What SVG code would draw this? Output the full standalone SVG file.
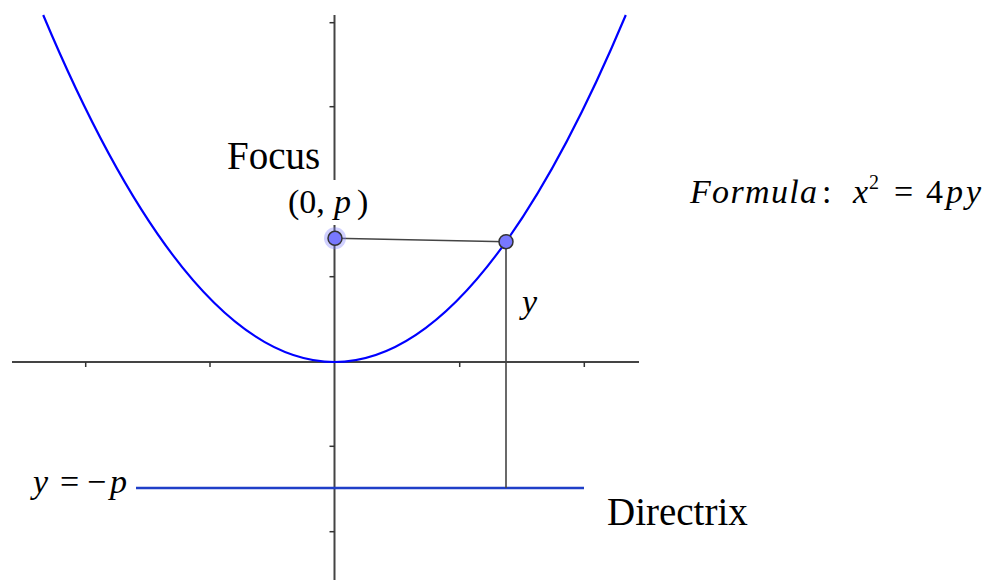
<svg xmlns="http://www.w3.org/2000/svg" width="989" height="580" viewBox="0 0 989 580">
<style>
  .axis { stroke: #444; stroke-width: 2; fill: none; }
  .tick { stroke: #333; stroke-width: 1.5; }
  .seg { stroke: #444; stroke-width: 1.6; fill: none; }
  .curve { stroke: #0000ff; stroke-width: 2.2; fill: none; }
  .dir { stroke: #1f3fc8; stroke-width: 2.6; fill: none; }
  .pt { fill: #7878ff; stroke: #333; stroke-width: 1.5; }
  .halo { fill: #7878ff; fill-opacity: 0.35; }
  text { font-family: "Liberation Serif", "Times New Roman", serif; fill: #000; }
  .lbl { font-size: 39px; }
  .math { font-size: 34px; }
  .it { font-style: italic; }
</style>
<rect width="989" height="580" fill="#fff"/>

<g id="axes">
  <line class="axis" x1="12" y1="362" x2="639" y2="362"/>
  <line class="axis" x1="334.5" y1="15" x2="334.5" y2="180"/>
  <line class="axis" x1="334.5" y1="225" x2="334.5" y2="580"/>
  <g id="ticks">
    <line class="tick" x1="85.7" y1="362" x2="85.7" y2="367"/>
    <line class="tick" x1="210" y1="362" x2="210" y2="367"/>
    <line class="tick" x1="459.7" y1="362" x2="459.7" y2="367"/>
    <line class="tick" x1="584.3" y1="362" x2="584.3" y2="367"/>
    <line class="tick" x1="329.5" y1="22.7" x2="334.5" y2="22.7"/>
    <line class="tick" x1="329.5" y1="106.7" x2="334.5" y2="106.7"/>
    <line class="tick" x1="329.5" y1="276.7" x2="334.5" y2="276.7"/>
    <line class="tick" x1="329.5" y1="446.3" x2="334.5" y2="446.3"/>
    <line class="tick" x1="329.5" y1="531.7" x2="334.5" y2="531.7"/>
  </g>
</g>

<g id="parabola">
  <path class="curve" d="M43.2,15 Q334.5,709 625.8,15"/>
</g>

<g id="directrix">
  <line class="dir" x1="136" y1="488" x2="584" y2="488"/>
</g>

<g id="connectors">
  <line class="seg" x1="335" y1="238.3" x2="506" y2="241.7"/>
  <line class="seg" x1="506" y1="241.7" x2="506" y2="488"/>
</g>

<g id="focus">
  <circle class="halo" cx="335" cy="238.3" r="11"/>
  <circle class="pt" cx="335" cy="238.3" r="7"/>
</g>

<g id="curve-point">
  <circle class="pt" cx="506" cy="241.7" r="7"/>
</g>

<g id="labels">
  <text class="lbl" x="227" y="169">Focus</text>
  <text class="math" x="288" y="213" font-size="33">(0,<tspan class="it" x="334">p</tspan><tspan x="357">)</tspan></text>
  <text class="math it" x="522" y="313">y</text>
  <text class="lbl" x="607" y="525">Directrix</text>
  <text class="math" y="493"><tspan class="it" x="33">y</tspan><tspan x="60">=</tspan><tspan x="87">−</tspan><tspan class="it" x="110">p</tspan></text>
  <text class="math" y="203"><tspan class="it" x="690" textLength="127" lengthAdjust="spacing">Formula</tspan><tspan x="822">:</tspan><tspan class="it" x="853">x</tspan><tspan x="869" y="189" font-size="20">2</tspan><tspan x="894" y="203">=</tspan><tspan x="926">4</tspan><tspan class="it" x="946">p</tspan><tspan class="it" x="966">y</tspan></text>
</g>
</svg>
